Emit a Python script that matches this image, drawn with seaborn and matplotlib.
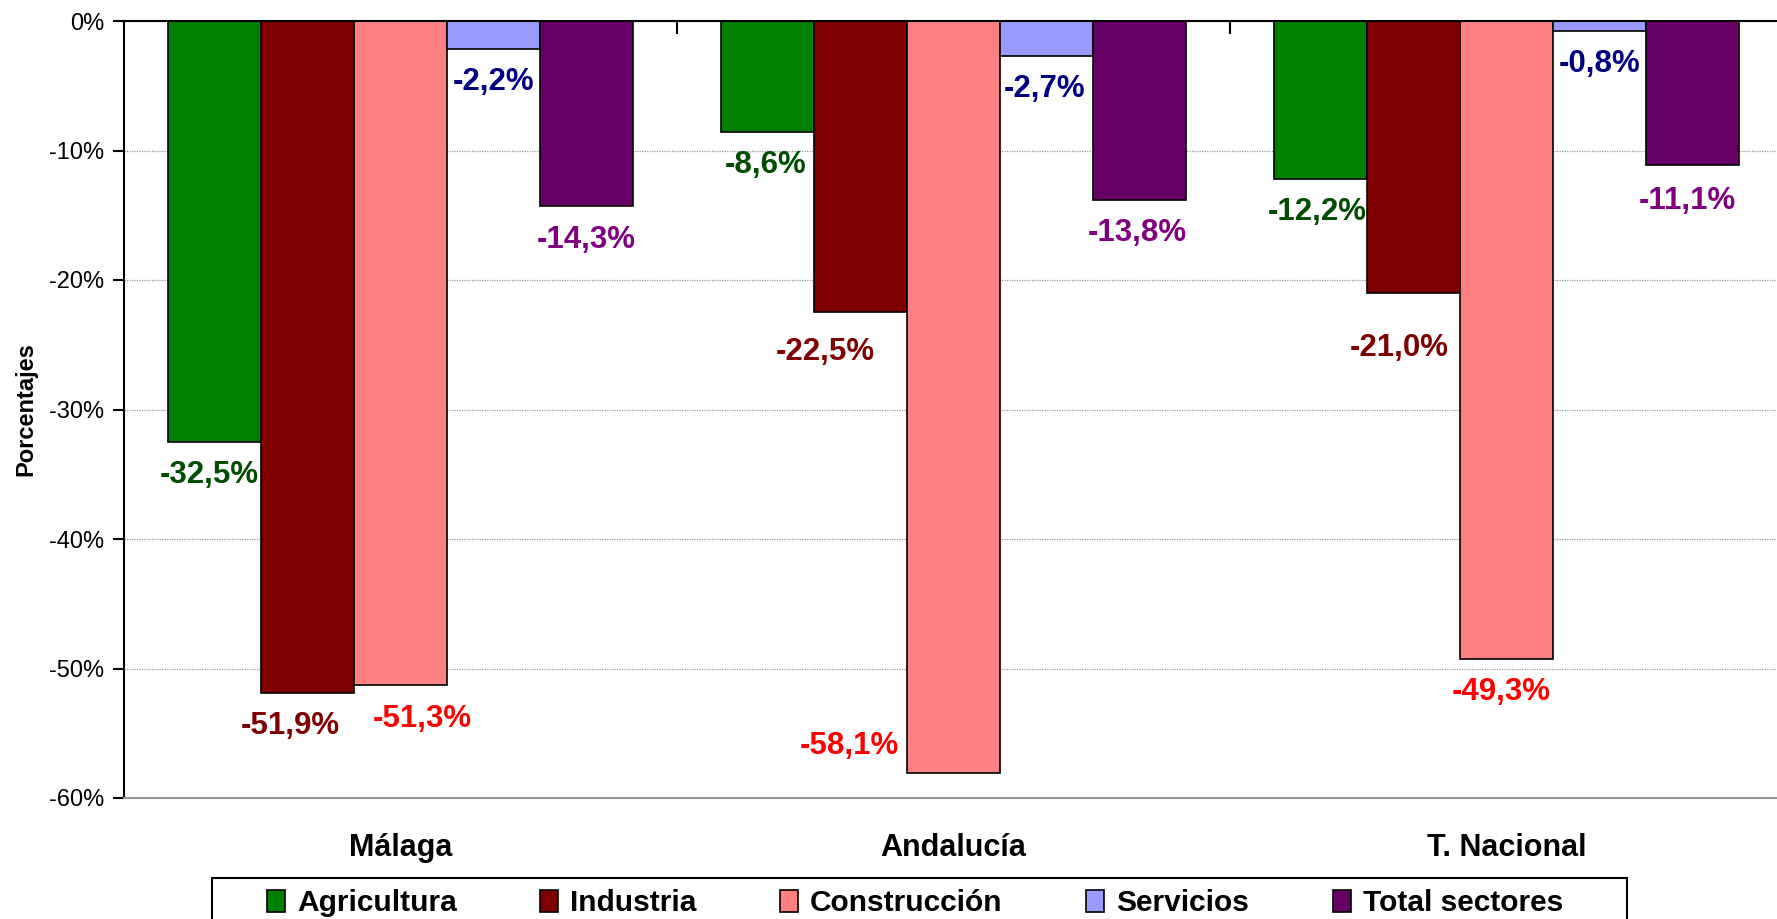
import matplotlib
matplotlib.use('Agg')
import matplotlib.pyplot as plt
import matplotlib.patches as mpatches
import numpy as np
import pandas as pd
import seaborn as sns

# Data (% change per sector)
regions = ['Málaga', 'Andalucía', 'T. Nacional']
sectors = ['Agricultura', 'Industria', 'Construcción', 'Servicios', 'Total sectores']
agricultura = [-32.5, -8.6, -12.2]
industria = [-51.9, -22.5, -21.0]
construccion = [-51.3, -58.1, -49.3]
servicios = [-2.2, -2.7, -0.8]
total_sectores = [-14.3, -13.8, -11.1]
y_ticks = [-60, -50, -40, -30, -20, -10, 0]

bar_colors = ['#008000', '#800000', '#FF8080', '#9999FF', '#660066']
label_colors = ['#004d00', '#800000', '#FF0000', '#000080', '#800080']

# label nudges (pixels) relative to the bar end, as placed in the original
label_dx = [[-5, -2, -3], [-17, -35, -14], [22, -104, -5], [0, -2, 0], [0, -2, -5]]
label_dy = [[-33, -33, -33], [-33, -40, -55], [-34, 27, -33], [-33, -33, -33], [-34, -33, -36]]

series = [agricultura, industria, construccion, servicios, total_sectores]
df = pd.DataFrame({
    'region': regions * len(sectors),
    'sector': [s for s in sectors for _ in regions],
    'value': [v for vals in series for v in vals],
})

sns.set_style('white')
plt.rcParams['font.family'] = ['Liberation Sans', 'DejaVu Sans']
plt.rcParams['text.color'] = 'black'
plt.rcParams['axes.labelcolor'] = 'black'
plt.rcParams['xtick.color'] = 'black'
plt.rcParams['ytick.color'] = 'black'

W, H = 1777, 919
fig = plt.figure(figsize=(W / 100, H / 100), dpi=100)
ax = fig.add_axes([124 / W, 1 - 798 / H, 1659 / W, 777 / H])

sns.barplot(data=df, x='region', y='value', hue='sector', order=regions,
            hue_order=sectors, palette=bar_colors, saturation=1, width=0.84,
            edgecolor='black', linewidth=1.2, errorbar=None, legend=False, ax=ax)

# value labels under each bar
for i, cont in enumerate(ax.containers):
    for j, bar in enumerate(cont.patches):
        v = series[i][j]
        xc = bar.get_x() + bar.get_width() / 2
        yend = bar.get_y() + bar.get_height()
        ax.annotate(f'{v:.1f}%'.replace('.', ','), xy=(xc, yend),
                    xytext=(label_dx[i][j], label_dy[i][j]),
                    textcoords='offset pixels', ha='center', va='center',
                    color=label_colors[i], fontsize=22.5, fontweight='bold')

ax.set_ylim(-60, 0)
ax.set_xlim(-0.5, 2.5)
ax.set_yticks(y_ticks)
ax.set_yticklabels([f'{t}%' for t in y_ticks], fontsize=17)
ax.yaxis.grid(True, color='#999999', linestyle=(0, (1, 1)), linewidth=0.9)
ax.set_axisbelow(True)

ax.set_xticks(range(len(regions)))
ax.set_xticklabels(regions, fontsize=22, fontweight='bold')
ax.set_xticks([0.5, 1.5], minor=True)
ax.tick_params(axis='x', which='major', length=0, pad=25.5)
ax.tick_params(axis='x', which='minor', bottom=False, top=True,
               direction='in', length=9, width=1.5, color='black')
ax.tick_params(axis='y', left=True, direction='out', length=8, width=1.5,
               color='black', pad=6)

ax.set_xlabel('')
ax.set_ylabel('Porcentajes', fontsize=17, fontweight='bold')
ax.yaxis.set_label_coords(-0.052, 0.5)

for side in ['left', 'top']:
    ax.spines[side].set_color('black')
    ax.spines[side].set_linewidth(1.5)
ax.spines['bottom'].set_color('#999999')
ax.spines['bottom'].set_linewidth(1.5)
ax.spines['right'].set_visible(False)

# legend entries, with a separate frame box that runs off the bottom edge
handles = [mpatches.Patch(facecolor=c, edgecolor='black', linewidth=1.2, label=s)
           for c, s in zip(bar_colors, sectors)]
leg = fig.legend(handles=handles, loc='upper center', ncol=5,
                 bbox_to_anchor=(915 / W, 1 - 879 / H), frameon=False,
                 handlelength=0.6, handleheight=0.8, handletextpad=0.4,
                 columnspacing=2.8, borderpad=0.35, borderaxespad=0,
                 prop={'size': 21.5, 'weight': 'bold'})
frame = mpatches.Rectangle((212 / W, -0.05), (1627 - 212) / W, 1 - 878 / H + 0.05,
                           transform=fig.transFigure, fill=False,
                           edgecolor='black', linewidth=1.5)
fig.patches.append(frame)

fig.savefig('out.png', dpi=100)
